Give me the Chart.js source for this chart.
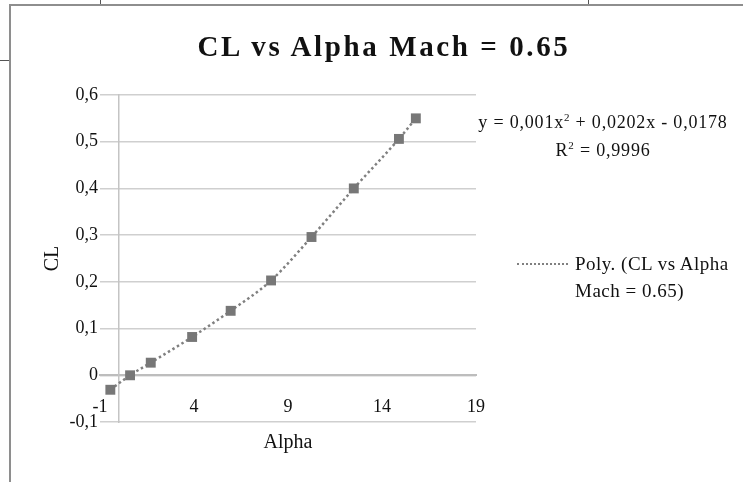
<!DOCTYPE html>
<html>
<head>
<meta charset="utf-8">
<script src="https://cdn.jsdelivr.net/npm/chart.js@4/dist/chart.umd.min.js"></script>
<style>
  html, body { margin: 0; padding: 0; background: #fff; overflow: hidden; }
  body { width: 743px; height: 482px; position: relative; font-family: "Liberation Serif", serif; color: #111; }
  #wrap { position: absolute; left: 0; top: 0; width: 743px; height: 482px; }
  .frameTop { position: absolute; left: 9px; top: 4px; width: 734px; height: 2px; background: #8e8e8e; }
  .frameLeft { position: absolute; left: 9px; top: 4px; width: 2px; height: 478px; background: #8e8e8e; }
  .stub { position: absolute; background: #555; }
  .title { position: absolute; left: 0; width: 768px; top: 30px; text-align: center; font-weight: bold; font-size: 29px; letter-spacing: 2.6px; }
  .eq { position: absolute; left: 462px; width: 282px; top: 108px; text-align: center; font-size: 18px; letter-spacing: 0.8px; line-height: 28px; }
  .eq sup { font-size: 11px; line-height: 0; }
  .legend { position: absolute; left: 517px; top: 250px; font-size: 19px; letter-spacing: 0.5px; line-height: 27px; }
  .legend .sample { position: absolute; left: 0; top: 13px; width: 51px; border-top: 2.5px dotted #808080; }
  .legend .txt { margin-left: 58px; }
</style>
</head>
<body>
<div id="wrap"><canvas id="clChart" width="743" height="482"></canvas></div>
<div class="frameTop"></div>
<div class="frameLeft"></div>
<div class="stub" style="left:0;top:60px;width:9px;height:1px"></div>
<div class="stub" style="left:100px;top:0;width:1px;height:4px"></div>
<div class="stub" style="left:588px;top:0;width:1px;height:4px"></div>
<div class="title">CL vs Alpha Mach = 0.65</div>
<div class="eq">y = 0,001x<sup>2</sup> + 0,0202x - 0,0178<br>R<sup>2</sup> = 0,9996</div>
<div class="legend"><div class="sample"></div><div class="txt">Poly. (CL vs Alpha<br>Mach = 0.65)</div></div>
<script>
// values
const alpha = [-0.45, 0.6, 1.7, 3.9, 5.95, 8.1, 10.25, 12.5, 14.9, 15.8];
const cl = [-0.031, 0.0, 0.027, 0.082, 0.138, 0.203, 0.296, 0.40, 0.506, 0.55];
const xTicks = [-1, 4, 9, 14, 19];
const yMin = -0.1, yMax = 0.6;

const points = alpha.map((a, i) => ({ x: a, y: cl[i] }));
const tickFont = { family: 'Liberation Serif', size: 18 };
const titleFont = { family: 'Liberation Serif', size: 20 };

let ctx = document.getElementById('clChart').getContext('2d');

new Chart(ctx, {
    type: 'scatter',
    data: {
        datasets: [
            {
                label: 'CL vs Alpha Mach = 0.65',
                data: points,
                showLine: true,
                borderColor: '#808080',
                borderWidth: 2.5,
                borderDash: [2.5, 2.8],
                cubicInterpolationMode: 'monotone',
                pointStyle: 'rect',
                pointRadius: 7,
                pointBorderWidth: 0,
                pointBackgroundColor: '#777777',
            },
        ],
    },
    options: {
        responsive: false,
        animation: false,
        layout: { padding: { left: 0, top: 95, right: 267, bottom: 60 } },
        plugins: { legend: { display: false }, tooltip: { enabled: false } },
        scales: {
            x: {
                type: 'linear',
                position: { y: 0 },
                min: xTicks[0],
                max: xTicks[xTicks.length - 1],
                afterBuildTicks: (s) => { s.ticks = xTicks.map((v) => ({ value: v })); },
                grid: { display: false, drawTicks: false },
                border: { display: true, color: '#bdbdbd', width: 2 },
                ticks: { color: '#111', font: tickFont, padding: 21 },
                title: { display: true, text: 'Alpha', color: '#111', font: titleFont, padding: { top: 4, bottom: 4 } },
                afterFit: (s) => { s.height = 83; },
            },
            y: {
                type: 'linear',
                position: 'left',
                min: yMin,
                max: yMax,
                ticks: {
                    stepSize: 0.1,
                    color: '#111',
                    font: tickFont,
                    padding: 2,
                    callback: (v) => String(Math.round(v * 10) / 10).replace('.', ','),
                },
                grid: { color: '#cfcfcf', lineWidth: 1.5, drawTicks: false },
                border: { display: false },
                title: { display: true, text: 'CL', color: '#111', font: titleFont, padding: { top: 41, bottom: 0 } },
                afterFit: (s) => { s.width = 100; },
            },
            y2: {
                type: 'linear',
                position: { x: 0 },
                min: yMin,
                max: yMax,
                ticks: { display: false },
                grid: { display: false, drawTicks: false },
                border: { display: true, color: '#c4c4c4', width: 1.5 },
            },
        },
    },
});
</script>
</body>
</html>
